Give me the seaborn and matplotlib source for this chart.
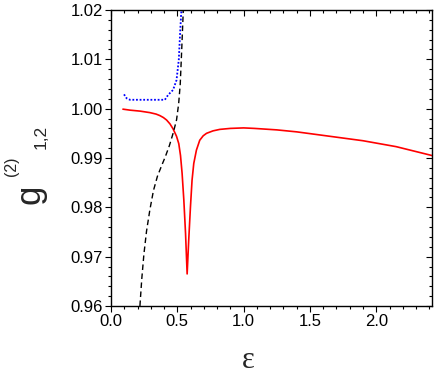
import matplotlib
matplotlib.use("Agg")
import matplotlib.pyplot as plt
import matplotlib.ticker as ticker
import seaborn as sns

# values
red_eps = [0.09, 0.143, 0.22, 0.293, 0.34, 0.368, 0.395, 0.419, 0.445, 0.468, 0.494, 0.511,
           0.524, 0.536, 0.549, 0.562, 0.574, 0.586, 0.599, 0.611, 0.624, 0.644, 0.669,
           0.695, 0.72, 0.769, 0.82, 0.9, 1.0, 1.08, 1.25, 1.4, 1.65, 1.9, 2.15, 2.42]
red_g2 = [0.9999, 0.9997, 0.9995, 0.9992, 0.9989, 0.9986, 0.9982, 0.9977, 0.9969, 0.9959,
          0.9944, 0.9929, 0.9905, 0.9869, 0.9815, 0.9747, 0.9665, 0.9734, 0.9801, 0.9855,
          0.9889, 0.9916, 0.9936, 0.9945, 0.9950, 0.9955, 0.9958, 0.9960, 0.9961, 0.9960,
          0.9957, 0.9953, 0.9944, 0.9935, 0.9923, 0.9905]

black_eps = [0.218, 0.232, 0.248, 0.268, 0.293, 0.320, 0.350, 0.381, 0.410, 0.440, 0.468,
             0.494, 0.510, 0.522, 0.533, 0.545]
black_g2 = [0.9600, 0.9655, 0.9705, 0.9752, 0.9795, 0.9834, 0.9863, 0.9884, 0.9903, 0.9925,
            0.9950, 0.9977, 1.0010, 1.0050, 1.0119, 1.0200]

blue_eps = [0.098, 0.118, 0.143, 0.25, 0.35, 0.406, 0.431, 0.468, 0.494, 0.511, 0.521, 0.529, 0.532]
blue_g2 = [1.0029, 1.0021, 1.0018, 1.0018, 1.0018, 1.0018, 1.0028, 1.0038, 1.0058, 1.0099,
           1.0153, 1.0193, 1.0200]

sns.set_style("ticks")
plt.rcParams["font.family"] = ["Liberation Sans", "DejaVu Sans"]

fig = plt.figure(figsize=(4.36, 3.73), dpi=100)
ax = fig.add_axes([0.2546, 0.1796, 0.7362, 0.7936])

sns.lineplot(x=red_eps, y=red_g2, ax=ax, color="red", linewidth=1.2, sort=False, estimator=None)
sns.lineplot(x=black_eps, y=black_g2, ax=ax, color="black", linewidth=1.0, linestyle=(0, (4, 2.5)),
             sort=False, estimator=None)
sns.lineplot(x=blue_eps, y=blue_g2, ax=ax, color="blue", linewidth=1.3, linestyle=(0, (1, 1)),
             sort=False, estimator=None)

ax.set_xlim(0, 2.42)
ax.set_ylim(0.96, 1.02)
ax.xaxis.set_major_locator(ticker.MultipleLocator(0.5))
ax.xaxis.set_minor_locator(ticker.MultipleLocator(0.1))
ax.yaxis.set_major_locator(ticker.MultipleLocator(0.01))
ax.yaxis.set_minor_locator(ticker.MultipleLocator(0.002))
ax.xaxis.set_major_formatter(ticker.FormatStrFormatter("%.1f"))
ax.yaxis.set_major_formatter(ticker.FormatStrFormatter("%.2f"))

for s in ax.spines.values():
    s.set_visible(True)
    s.set_linewidth(1.0)
    s.set_color("black")

ax.tick_params(which="both", direction="out", labelsize=12, colors="black", width=0.8)
ax.tick_params(which="major", length=4, pad=2)
ax.tick_params(which="minor", length=2.5)
ax.tick_params(which="both", top=True, right=True)
# ticks on top and right point inwards
for t in ax.xaxis.get_ticklines(minor=False)[1::2] + ax.xaxis.get_ticklines(minor=True)[1::2]:
    t.set_marker(3)
for t in ax.yaxis.get_ticklines(minor=False)[1::2] + ax.yaxis.get_ticklines(minor=True)[1::2]:
    t.set_marker(0)

ax.set_xlabel("")
ax.set_ylabel("")

# axis titles
fig.text(248 / 436, 1 - 360 / 373, "\u03b5", family=["Liberation Serif", "DejaVu Serif"],
         fontsize=22, ha="center", va="center")
fig.text(30 / 436, 1 - 194 / 373, "g", fontsize=25, rotation=90, ha="center", va="center")
fig.text(12 / 436, 1 - 166 / 373, "(2)", fontsize=11.5, rotation=90, ha="center", va="center")
fig.text(41 / 436, 1 - 137 / 373, "1,2", fontsize=12.5, rotation=90, ha="center", va="center")

fig.savefig("out.png", dpi=100)
